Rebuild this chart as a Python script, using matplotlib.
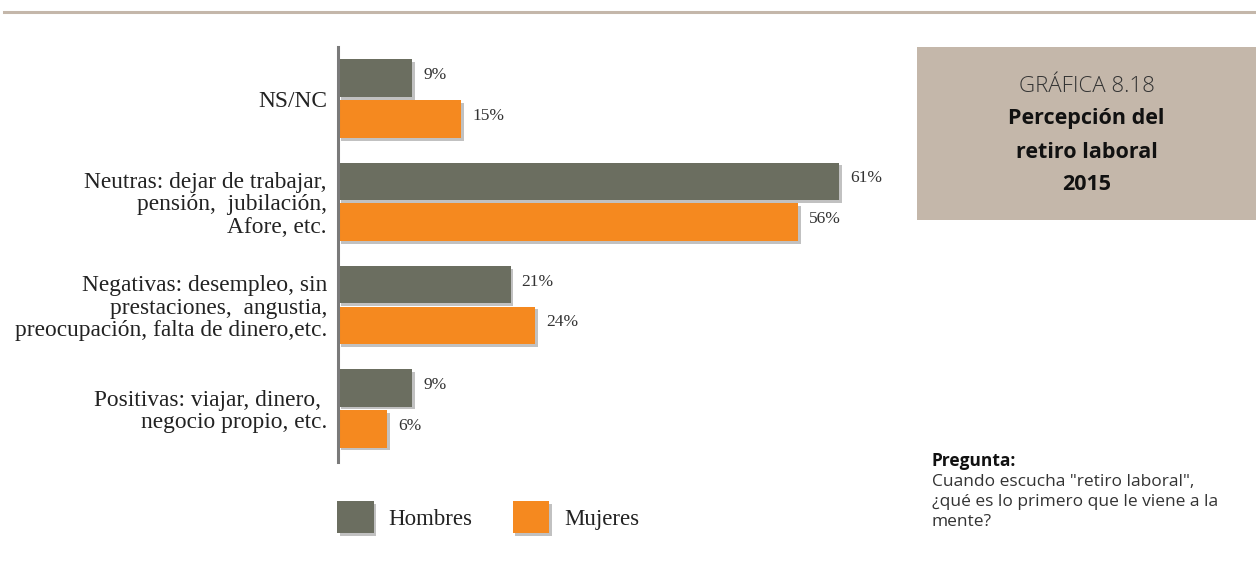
import numpy as np
import matplotlib.pyplot as plt
from matplotlib.patches import Rectangle
from matplotlib.lines import Line2D
import matplotlib.patheffects as pe

categorias = ["NS/NC",
              "Neutras: dejar de trabajar,\npensión,  jubilación,\nAfore, etc.",
              "Negativas: desempleo, sin\nprestaciones,  angustia,\npreocupación, falta de dinero,etc.",
              "Positivas: viajar, dinero, \nnegocio propio, etc."]
hombres = [9, 61, 21, 9]
mujeres = [15, 56, 24, 6]
series = ["Hombres", "Mujeres"]

gris = "#6b6e60"
naranja = "#f5891f"
beige = "#c4b7aa"

W, H = 1256, 566
fig = plt.figure(figsize=(W / 100, H / 100), dpi=100)

def fx(px):
    return px / W

def fy(px):
    return 1 - px / H

# linea superior
fig.add_artist(Line2D([fx(4), 1], [fy(11.5), fy(11.5)], color=beige, lw=2.2))

ax = fig.add_axes([fx(338), fy(462), fx(822), 415 / H])
ax.patch.set_alpha(0)

y = np.arange(len(categorias))
alto = 0.365
desp = 0.198
sombra = [pe.SimplePatchShadow(offset=(2, -2), shadow_rgbFace="#666666", alpha=0.4), pe.Normal()]

b1 = ax.barh(y - desp, hombres, height=alto, color=gris, label=series[0])
b2 = ax.barh(y + desp, mujeres, height=alto, color=naranja, label=series[1])
for b in list(b1) + list(b2):
    b.set_path_effects(sombra)

for barras, vals in ((b1, hombres), (b2, mujeres)):
    for b, v in zip(barras, vals):
        ax.text(v + 1.35, b.get_y() + b.get_height() / 2 - 0.03, f"{v}%",
                va="center", ha="left", fontsize=12.5,
                family="Liberation Serif", color="#333333")

ax.set_xlim(0, 100)
ax.set_ylim(3.52, -0.5)
ax.set_xticks([])
ax.set_yticks(y)
ax.set_yticklabels(categorias, fontsize=16.8, family="Liberation Serif",
                   color="#222222", linespacing=1.08)
ax.tick_params(axis="y", length=0, pad=8)
for s in ("top", "right", "bottom"):
    ax.spines[s].set_visible(False)
ax.spines["left"].set_color("#7a7a7a")
ax.spines["left"].set_linewidth(2.2)
ax.spines["left"].set_path_effects([pe.SimplePatchShadow(offset=(1.5, -1.5), alpha=0.3), pe.Normal()])

leg = ax.legend(ncol=2, frameon=False, loc="upper left",
                bbox_to_anchor=(fx(337), fy(501)), bbox_transform=fig.transFigure,
                borderpad=0, borderaxespad=0, handlelength=1.6, handleheight=1.8,
                handletextpad=0.65, columnspacing=1.75,
                prop={"family": "Liberation Serif", "size": 16.5})
for t in leg.get_texts():
    t.set_color("#222222")

# recuadro del titulo
fig.add_artist(Rectangle((fx(917), fy(220)), fx(W - 917), (220 - 47) / H,
                         color=beige, lw=0))
cx = fx(1086.5)
fig.text(cx, fy(86), "GRÁFICA 8.18", ha="center", va="center",
         fontsize=16, family="Open Sans", weight="light", color="#333333")
for txt, yy in (("Percepción del", 119), ("retiro laboral", 152), ("2015", 185)):
    fig.text(cx, fy(yy), txt, ha="center", va="center", fontsize=15.5,
             family="Open Sans", weight="bold", color="#111111")

fig.text(fx(932), fy(461), "Pregunta:", ha="left", va="center", fontsize=12.5,
         family="Open Sans", weight="bold", color="#111111")
fig.text(fx(932), fy(474), "Cuando escucha \"retiro laboral\",\n¿qué es lo primero que le viene a la\nmente?",
         ha="left", va="top", fontsize=12.5, family="Open Sans", color="#333333",
         linespacing=1.32)

fig.savefig("out.png", dpi=100)
